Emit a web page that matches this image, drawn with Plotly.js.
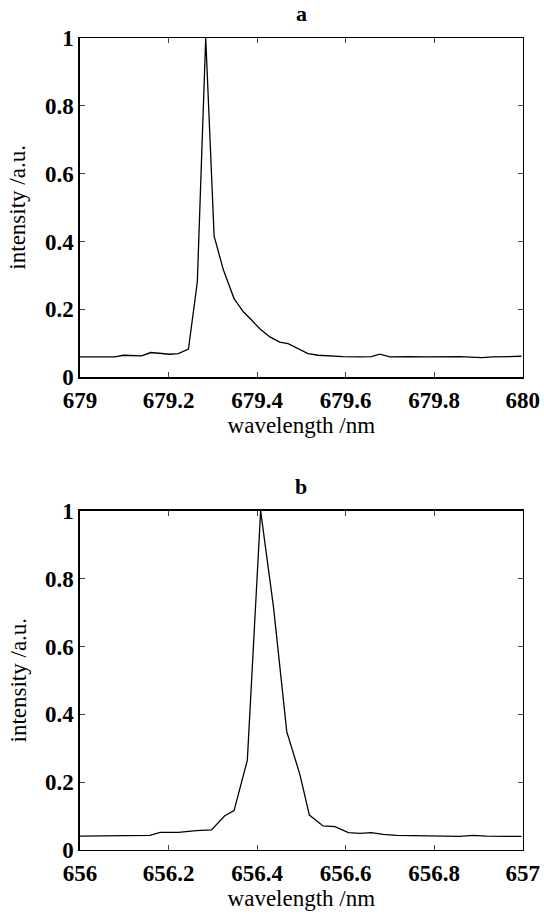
<!DOCTYPE html>
<html>
<head>
<meta charset="utf-8">
<script src="https://cdn.plot.ly/plotly-3.0.1.min.js"></script>
<style>body{margin:0;padding:0;background:#fff}#chart{width:544px;height:918px}</style>
</head>
<body>
<div id="chart"></div>
<script>
// Panel a: 679-680 nm
const waveA = [679.000, 679.020, 679.040, 679.060, 679.079, 679.098, 679.118, 679.139, 679.160, 679.181, 679.203, 679.222, 679.245, 679.265, 679.284, 679.303, 679.324, 679.348, 679.369, 679.388, 679.406, 679.429, 679.451, 679.470, 679.493, 679.515, 679.538, 679.557, 679.594, 679.632, 679.658, 679.677, 679.700, 679.745, 679.782, 679.858, 679.907, 679.933, 679.997];
const intA  = [0.060, 0.060, 0.060, 0.060, 0.060, 0.065, 0.064, 0.063, 0.073, 0.071, 0.068, 0.070, 0.083, 0.281, 1.000, 0.416, 0.316, 0.232, 0.193, 0.168, 0.143, 0.119, 0.104, 0.099, 0.085, 0.070, 0.065, 0.063, 0.061, 0.060, 0.061, 0.068, 0.060, 0.061, 0.060, 0.061, 0.058, 0.060, 0.062];
// Panel b: 656-657 nm
const waveB = [656.000, 656.040, 656.080, 656.128, 656.158, 656.181, 656.222, 656.263, 656.297, 656.327, 656.348, 656.378, 656.408, 656.437, 656.467, 656.497, 656.518, 656.549, 656.576, 656.606, 656.632, 656.658, 656.685, 656.715, 656.783, 656.858, 656.888, 656.918, 656.997];
const intB  = [0.041, 0.042, 0.042, 0.042, 0.043, 0.052, 0.052, 0.057, 0.059, 0.101, 0.116, 0.265, 1.000, 0.717, 0.349, 0.221, 0.103, 0.071, 0.069, 0.051, 0.049, 0.051, 0.046, 0.043, 0.041, 0.040, 0.043, 0.041, 0.040];
const panelTitles = ['a', 'b'];
const xTitle = 'wavelength /nm';
const yTitle = 'intensity /a.u.';
const xTickValsA = [679, 679.2, 679.4, 679.6, 679.8, 680];
const xTickTextA = ['679', '679.2', '679.4', '679.6', '679.8', '680'];
const xTickValsB = [656, 656.2, 656.4, 656.6, 656.8, 657];
const xTickTextB = ['656', '656.2', '656.4', '656.6', '656.8', '657'];
const yTickVals = [0, 0.2, 0.4, 0.6, 0.8, 1];
const yTickText = ['0', '0.2', '0.4', '0.6', '0.8', '1'];

const serif = 'Liberation Serif';
const tickFont = {family: serif, size: 23, color: '#000', weight: 700};
const titleFont = {family: serif, size: 23, color: '#000', weight: 400};

const traces = [
  {x: waveA, y: intA, type: 'scatter', mode: 'lines', line: {color: '#000', width: 1.3}, xaxis: 'x', yaxis: 'y', showlegend: false},
  {x: waveB, y: intB, type: 'scatter', mode: 'lines', line: {color: '#000', width: 1.3}, xaxis: 'x2', yaxis: 'y2', showlegend: false}
];

function xax(domain, tv, tt, anchor) {
  return {domain: domain, range: [tv[0], tv[tv.length-1]], tickvals: tv, ticktext: tt, ticks: 'inside', ticklen: 5, tickwidth: 1,
    showline: true, linecolor: '#000', linewidth: 1.5, mirror: 'ticks', showgrid: false, zeroline: false, anchor: anchor,
    ticklabelstandoff: 2,
    tickfont: tickFont, title: {text: xTitle, font: titleFont, standoff: 0}, automargin: false};
}
function yax(domain, anchor) {
  return {domain: domain, range: [0, 1], tickvals: yTickVals, ticktext: yTickText, ticks: 'inside', ticklen: 5, tickwidth: 1,
    showline: true, linecolor: '#000', linewidth: 1.5, mirror: 'ticks', showgrid: false, zeroline: false, anchor: anchor,
    tickfont: tickFont, automargin: false};
}

const domA = [0.589, 0.9586];
const domB = [0.0741, 0.4434];
const layout = {
  width: 544, height: 918,
  font: {family: serif},
  margin: {l: 0, r: 0, t: 0, b: 0},
  paper_bgcolor: '#fff', plot_bgcolor: '#fff',
  xaxis: xax([0.147, 0.961], xTickValsA, xTickTextA, 'y'),
  yaxis: yax(domA, 'x'),
  xaxis2: xax([0.147, 0.961], xTickValsB, xTickTextB, 'y2'),
  yaxis2: yax(domB, 'x2'),
  annotations: [
    {text: panelTitles[0], xref: 'paper', yref: 'paper', x: 0.554, y: domA[1], yanchor: 'bottom', yshift: 10, showarrow: false, font: {family: serif, size: 22, color: '#000', weight: 700}},
    {text: panelTitles[1], xref: 'paper', yref: 'paper', x: 0.554, y: domB[1], yanchor: 'bottom', yshift: 10, showarrow: false, font: {family: serif, size: 22, color: '#000', weight: 700}},
    {text: yTitle, xref: 'paper', yref: 'paper', x: 18 / 544, xanchor: 'center', y: (domA[0] + domA[1]) / 2, yanchor: 'middle', textangle: -90, showarrow: false, font: titleFont},
    {text: yTitle, xref: 'paper', yref: 'paper', x: 18 / 544, xanchor: 'center', y: (domB[0] + domB[1]) / 2, yanchor: 'middle', textangle: -90, showarrow: false, font: titleFont}
  ]
};

Plotly.newPlot('chart', traces, layout, {displayModeBar: false, staticPlot: true});
</script>
</body>
</html>
